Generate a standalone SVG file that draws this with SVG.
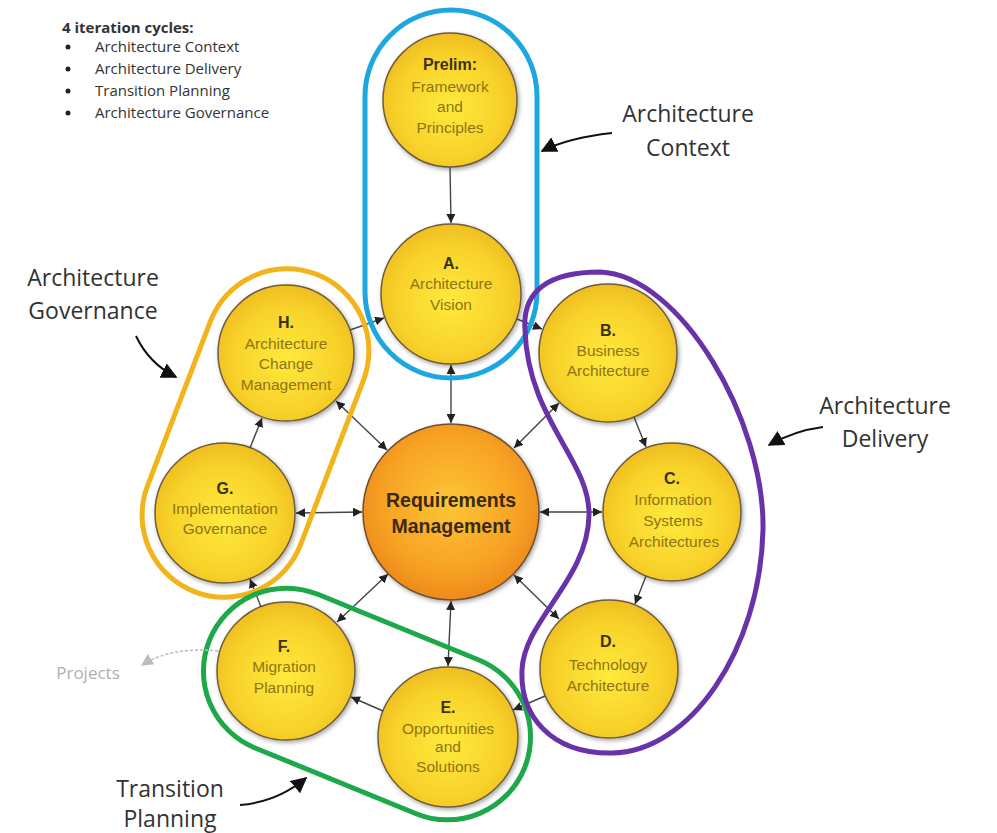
<svg xmlns="http://www.w3.org/2000/svg" width="997" height="833" viewBox="0 0 997 833">
<defs>
<radialGradient id="yel" cx="50%" cy="55%" r="55%">
<stop offset="0" stop-color="#FFEA3C"/>
<stop offset="0.7" stop-color="#F8D22A"/>
<stop offset="1" stop-color="#EFBE22"/>
</radialGradient>
<radialGradient id="org" cx="50%" cy="45%" r="55%">
<stop offset="0" stop-color="#FDC535"/>
<stop offset="0.7" stop-color="#F7A224"/>
<stop offset="1" stop-color="#EE8A1C"/>
</radialGradient>
<filter id="sh" x="-20%" y="-20%" width="140%" height="140%">
<feDropShadow dx="1.5" dy="2" stdDeviation="2" flood-color="#000" flood-opacity="0.35"/>
</filter>
<marker id="ah" viewBox="0 0 10 10" refX="10" refY="5" markerWidth="9" markerHeight="9" markerUnits="userSpaceOnUse" orient="auto-start-reverse">
<path d="M0,0 L10,5 L0,10 z" fill="#222"/>
</marker>
<marker id="big" viewBox="0 0 10 10" refX="9" refY="5" markerWidth="16" markerHeight="16" markerUnits="userSpaceOnUse" orient="auto">
<path d="M0,0 L10,5 L0,10 z" fill="#111"/>
</marker>
<marker id="grey" viewBox="0 0 10 10" refX="9" refY="5" markerWidth="12" markerHeight="12" markerUnits="userSpaceOnUse" orient="auto">
<path d="M0,0 L10,5 L0,10 z" fill="#bbb"/>
</marker>
<style>
.node circle{fill:url(#yel);stroke:#6e5d3a;stroke-width:1.5;filter:url(#sh)}
.lt{font-family:"Liberation Sans",Arial,sans-serif;font-size:16px;font-weight:bold;fill:#3a3214;text-anchor:middle}
.dt{font-family:"Liberation Sans",Arial,sans-serif;font-size:15.5px;fill:#8f7318;text-anchor:middle}
.ann{font-family:"Open Sans","Liberation Sans",sans-serif;font-size:23px;fill:#333;text-anchor:middle}
.leg{font-family:"Open Sans","Liberation Sans",sans-serif;font-size:15px;fill:#333}
.con line{stroke:#444;stroke-width:1.4;marker-end:url(#ah)}
.con line.bi{marker-start:url(#ah)}
.annarrow{fill:none;stroke:#111;stroke-width:2;marker-end:url(#big)}
.cap{fill:none;stroke-width:5}
</style>
</defs>
<rect width="997" height="833" fill="#fff"/>

<g id="legend">
<text class="leg" x="62" y="33" font-weight="bold" font-size="14">4 iteration cycles:</text>
<circle cx="68" cy="47" r="2.5" fill="#222"/>
<circle cx="68" cy="69" r="2.5" fill="#222"/>
<circle cx="68" cy="91" r="2.5" fill="#222"/>
<circle cx="68" cy="113" r="2.5" fill="#222"/>
<text class="leg" x="95" y="52">Architecture Context</text>
<text class="leg" x="95" y="74">Architecture Delivery</text>
<text class="leg" x="95" y="96">Transition Planning</text>
<text class="leg" x="95" y="118">Architecture Governance</text>
</g>

<g id="prelim" class="node">
<circle cx="450" cy="100" r="67"/>
<text class="lt" x="450" y="70">Prelim:</text>
<text class="dt" x="450" y="92">Framework</text>
<text class="dt" x="450" y="112">and</text>
<text class="dt" x="450" y="133">Principles</text>
</g>
<g id="nodeA" class="node">
<circle cx="451" cy="294" r="70"/>
<text class="lt" x="451" y="269">A.</text>
<text class="dt" x="451" y="289">Architecture</text>
<text class="dt" x="451" y="310">Vision</text>
</g>
<g id="nodeB" class="node">
<circle cx="608" cy="353" r="69"/>
<text class="lt" x="608" y="336">B.</text>
<text class="dt" x="608" y="356">Business</text>
<text class="dt" x="608" y="376">Architecture</text>
</g>
<g id="nodeC" class="node">
<circle cx="672" cy="512" r="69"/>
<text class="lt" x="672" y="484">C.</text>
<text class="dt" x="673" y="505">Information</text>
<text class="dt" x="673" y="526">Systems</text>
<text class="dt" x="674" y="547">Architectures</text>
</g>
<g id="nodeD" class="node">
<circle cx="609" cy="669" r="69"/>
<text class="lt" x="608" y="647">D.</text>
<text class="dt" x="608" y="670">Technology</text>
<text class="dt" x="608" y="691">Architecture</text>
</g>
<g id="nodeE" class="node">
<circle cx="448" cy="737" r="70"/>
<text class="lt" x="448" y="713">E.</text>
<text class="dt" x="448" y="734">Opportunities</text>
<text class="dt" x="448" y="752">and</text>
<text class="dt" x="448" y="772">Solutions</text>
</g>
<g id="nodeF" class="node">
<circle cx="286" cy="671" r="69"/>
<text class="lt" x="284" y="652">F.</text>
<text class="dt" x="284" y="672">Migration</text>
<text class="dt" x="284" y="693">Planning</text>
</g>
<g id="nodeG" class="node">
<circle cx="225" cy="513" r="70"/>
<text class="lt" x="225" y="494">G.</text>
<text class="dt" x="225" y="514">Implementation</text>
<text class="dt" x="225" y="534">Governance</text>
</g>
<g id="nodeH" class="node">
<circle cx="286" cy="353" r="68"/>
<text class="lt" x="286" y="328">H.</text>
<text class="dt" x="286" y="349">Architecture</text>
<text class="dt" x="286" y="369">Change</text>
<text class="dt" x="286" y="390">Management</text>
</g>
<g id="req">
<circle cx="451" cy="512" r="88" fill="url(#org)" stroke="#6e5030" stroke-width="1.5" filter="url(#sh)"/>
<text x="451" y="507" font-family="Liberation Sans,Arial,sans-serif" font-size="19.5" font-weight="bold" fill="#3a2a10" text-anchor="middle">Requirements</text>
<text x="451" y="533" font-family="Liberation Sans,Arial,sans-serif" font-size="19.5" font-weight="bold" fill="#3a2a10" text-anchor="middle">Management</text>
</g>

<g id="connectors" class="con">
<line x1="450" y1="167" x2="451" y2="223"/>
<line class="bi" x1="451" y1="365" x2="451" y2="423"/>
<line x1="350" y1="330" x2="384" y2="318"/>
<line x1="517" y1="319" x2="542" y2="329"/>
<line x1="634" y1="417" x2="646" y2="447"/>
<line x1="646" y1="576" x2="635" y2="604"/>
<line x1="545" y1="696" x2="513" y2="710"/>
<line x1="383" y1="711" x2="351" y2="697"/>
<line x1="261" y1="607" x2="250" y2="579"/>
<line x1="250" y1="448" x2="262" y2="418"/>
<line class="bi" x1="387" y1="450" x2="336" y2="401"/>
<line class="bi" x1="362" y1="512" x2="296" y2="513"/>
<line class="bi" x1="514" y1="448" x2="559" y2="403"/>
<line class="bi" x1="540" y1="512" x2="602" y2="512"/>
<line class="bi" x1="514" y1="575" x2="559" y2="619"/>
<line class="bi" x1="451" y1="601" x2="448" y2="666"/>
<line class="bi" x1="388" y1="574" x2="337" y2="622"/>
</g>

<g id="cycles">
<rect class="cap" x="365" y="10" width="172" height="368" rx="86" stroke="#1CA7E0"/>
<rect class="cap" x="-82" y="-170" width="164" height="340" rx="82" stroke="#F2B41A" transform="translate(255.5 433) rotate(20.9)"/>
<rect class="cap" x="-170" y="-83" width="340" height="166" rx="83" stroke="#1DA84A" transform="translate(367 704) rotate(22.2)"/>
<path class="cap" stroke="#6A32A8" d="M525,330 C522,290 550,272 600,272 C680,275 765,420 763,530 C760,650 690,752 612,753 C550,754 520,715 522,670 C524,620 588,580 589,515 C590,460 528,420 525,330 Z"/>
</g>

<g id="annotations">
<text class="ann" x="688" y="122">Architecture</text>
<text class="ann" x="688" y="156">Context</text>
<path class="annarrow" d="M612,133 C585,136 560,142 542,151"/>
<text class="ann" x="93" y="286">Architecture</text>
<text class="ann" x="93" y="319">Governance</text>
<path class="annarrow" d="M136,336 C145,355 158,368 176,377"/>
<text class="ann" x="885" y="414">Architecture</text>
<text class="ann" x="885" y="447">Delivery</text>
<path class="annarrow" d="M823,427 C800,430 785,436 769,445"/>
<text class="ann" x="170" y="797">Transition</text>
<text class="ann" x="170" y="827">Planning</text>
<path class="annarrow" d="M240,805 C265,803 288,793 306,778"/>
<text x="88" y="679" font-family="Open Sans,Liberation Sans,sans-serif" font-size="17" fill="#b0b0b0" text-anchor="middle">Projects</text>
<path d="M218,651 C190,648 162,652 142,665" fill="none" stroke="#bbb" stroke-width="1.5" stroke-dasharray="3,2" marker-end="url(#grey)"/>
</g>
</svg>
